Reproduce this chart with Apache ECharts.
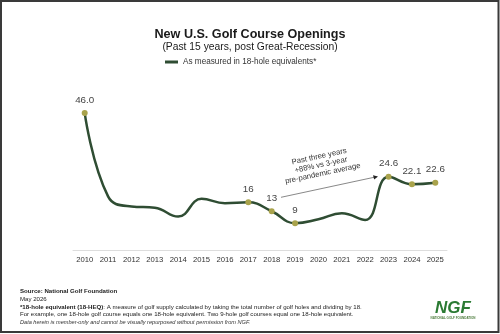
<!DOCTYPE html>
<html>
<head>
<meta charset="utf-8">
<script src="https://cdn.jsdelivr.net/npm/echarts@6/dist/echarts.min.js"></script>
<style>
html,body{margin:0;padding:0;background:#fff;}
#chart{width:500px;height:334px;}
</style>
</head>
<body>
<div id="chart"></div>
<script>
const years = ['2010','2011','2012','2013','2014','2015','2016','2017','2018','2019','2020','2021','2022','2023','2024','2025'];
const openings = [46.0, 18.0, 14.6, 14.2, 11.2, 17.2, 15.7, 16, 13, 9, 10.3, 12.3, 10.1, 24.6, 22.1, 22.6];
const pointLabels = ['46.0', null, null, null, null, null, null, '16', '13', '9', null, null, null, '24.6', '22.1', '22.6'];
const seriesName = 'As measured in 18-hole equivalents*';

const FONT = '"Liberation Sans", Arial, sans-serif';
const lineColor = '#2f4d33';
const dotColor = '#a9a34c';

const seriesData = openings.map((v, i) => {
  const lab = pointLabels[i];
  if (lab === null) return { value: v, symbol: 'none', label: { show: false } };
  return {
    value: v, symbol: 'circle', symbolSize: 6,
    label: { show: true, formatter: lab }
  };
});

const chart = echarts.init(document.getElementById('chart'), null, { renderer: 'canvas' });
chart.setOption({
  animation: false,
  backgroundColor: '#ffffff',
  title: {
    text: 'New U.S. Golf Course Openings',
    subtext: '(Past 15 years, post Great-Recession)',
    left: 'center', top: 23, itemGap: 1,
    textStyle: { fontFamily: FONT, fontSize: 12.6, fontWeight: 'bold', color: '#1a1a1a' },
    subtextStyle: { fontFamily: FONT, fontSize: 10.3, color: '#1a1a1a' }
  },
  legend: {
    left: 160, top: 53,
    itemWidth: 13, itemHeight: 3, itemGap: 8,
    icon: 'rect',
    textStyle: { fontFamily: FONT, fontSize: 8.2, color: '#333' },
    data: [{ name: seriesName, itemStyle: { color: lineColor } }]
  },
  grid: { left: 73, right: 53, top: 101, height: 149, containLabel: false },
  xAxis: {
    type: 'category', data: years, boundaryGap: true,
    axisLine: { lineStyle: { color: '#dddddd', width: 1 } },
    axisTick: { show: false },
    axisLabel: { fontFamily: FONT, fontSize: 7.7, color: '#333', margin: 6 }
  },
  yAxis: {
    type: 'value', min: 0, max: 50, show: false, splitLine: { show: false }
  },
  series: [{
    name: seriesName,
    type: 'line',
    smooth: 0.45,
    data: seriesData,
    lineStyle: { color: lineColor, width: 2.5 },
    itemStyle: { color: dotColor },
    showAllSymbol: true,
    label: { position: 'top', distance: 5, fontFamily: FONT, fontSize: 9.8, color: '#444' },
    z: 3
  }],
  graphic: [
    { type: 'rect', shape: { x: 1, y: 1, width: 497.5, height: 331 }, style: { fill: 'none', stroke: '#3a3a3a', lineWidth: 2 }, z: 100 },
    { type: 'text', x: 321, y: 165, rotation: 12 * Math.PI / 180, originX: 0, originY: 0,
      style: { text: 'Past three years\n+88% vs 3-year\npre-pandemic average', fill: '#333', font: '7.7px ' + FONT, align: 'center', verticalAlign: 'middle', lineHeight: 8.7 } },
    { type: 'line', shape: { x1: 281, y1: 197.3, x2: 374, y2: 177.3 }, style: { stroke: '#555', lineWidth: 0.7 } },
    { type: 'polygon', shape: { points: [[378, 176.5], [373, 175.2], [374.2, 179.6]] }, style: { fill: '#222' } },
    { type: 'text', x: 20, y: 288,
      style: { text: '{b|Source: National Golf Foundation}\nMay 2026\n{b|*18-hole equivalent (18-HEQ)}: A measure of golf supply calculated by taking the total number of golf holes and dividing by 18.\nFor example, one 18-hole golf course equals one 18-hole equivalent. Two 9-hole golf courses equal one 18-hole equivalent.\n{i|Data herein is member-only and cannot be visually repurposed without permission from NGF.}',
        font: '6.1px ' + FONT, fill: '#222', lineHeight: 7.6,
        rich: { b: { fontWeight: 'bold', fontSize: 6.1, fontFamily: FONT, fill: '#222' }, i: { fontStyle: 'italic', fontSize: 5.6, fontFamily: FONT, fill: '#333' } } } },
    { type: 'text', x: 453, y: 308,
      style: { text: 'NGF', font: 'italic bold 17px ' + FONT, fill: '#2b7a33', align: 'center', verticalAlign: 'middle' } },
    { type: 'text', x: 453, y: 318,
      style: { text: 'NATIONAL GOLF FOUNDATION', font: 'bold 3px ' + FONT, fill: '#4a7a3a', align: 'center', verticalAlign: 'middle' } }
  ]
});
</script>
</body>
</html>
